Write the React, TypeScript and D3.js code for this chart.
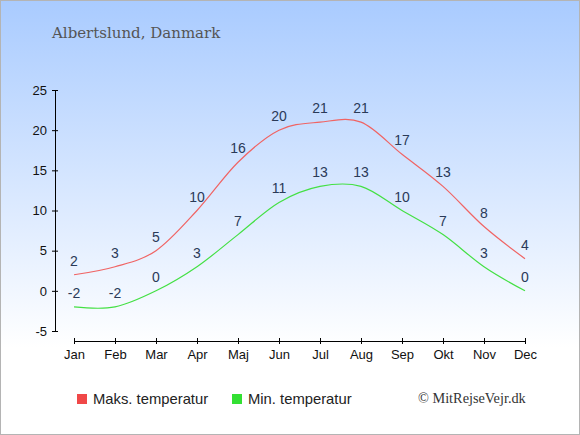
import { useRef, useEffect } from 'react';
import * as d3 from 'd3';

const months = ['Jan', 'Feb', 'Mar', 'Apr', 'Maj', 'Jun', 'Jul', 'Aug', 'Sep', 'Okt', 'Nov', 'Dec'];
const maxTemp = [2, 3, 5, 10, 16, 20, 21, 21, 17, 13, 8, 4];
const minTemp = [-2, -2, 0, 3, 7, 11, 13, 13, 10, 7, 3, 0];
const yTicks = [-5, 0, 5, 10, 15, 20, 25];

const W = 580;
const H = 435;

const App = () => {
    const ref = useRef<SVGSVGElement>(null);

    useEffect(() => {
        document.body.style.margin = '0';
        const svg = d3.select(ref.current);
        svg.selectAll('*').remove();

        const defs = svg.append('defs');
        const grad = defs.append('linearGradient')
            .attr('id', 'bg')
            .attr('x1', 0).attr('y1', 0).attr('x2', 0).attr('y2', 1);
        grad.append('stop').attr('offset', '0%').attr('stop-color', '#a9cbff');
        grad.append('stop').attr('offset', '80%').attr('stop-color', '#ffffff');
        grad.append('stop').attr('offset', '100%').attr('stop-color', '#ffffff');

        svg.append('rect')
            .attr('x', 0.5).attr('y', 0.5)
            .attr('width', W - 1).attr('height', H - 1)
            .attr('fill', 'url(#bg)')
            .attr('stroke', '#b4b4b4');

        svg.append('text')
            .attr('x', 52).attr('y', 38)
            .attr('font-family', "'DejaVu Serif', serif")
            .attr('font-size', 15)
            .attr('fill', '#555')
            .text('Albertslund, Danmark');

        const x = d3.scalePoint<string>().domain(months).range([74, 525]);
        const y = d3.scaleLinear().domain([-5, 25]).range([331, 90]);

        // y axis
        const yAxis = svg.append('g')
            .attr('transform', 'translate(55,0)')
            .call(d3.axisLeft(y).tickValues(yTicks).tickFormat(d => String(d)).tickSize(3).tickSizeOuter(0).tickPadding(5));
        yAxis.selectAll('.tick line').attr('x1', 3);
        yAxis.selectAll('text').attr('font-family', "'Liberation Sans', Arial, sans-serif").attr('font-size', 13).attr('fill', '#111');
        yAxis.select('.domain').attr('stroke', '#000');

        // x axis
        const xAxis = svg.append('g')
            .attr('transform', 'translate(0,341)')
            .call(d3.axisBottom(x).tickSize(3).tickSizeOuter(0).tickPadding(6));
        xAxis.selectAll('.tick line').attr('y1', -3);
        xAxis.selectAll('text').attr('font-family', "'Liberation Sans', Arial, sans-serif").attr('font-size', 13).attr('fill', '#111');

        const line = d3.line<number>()
            .x((_, i) => x(months[i])!)
            .y(d => y(d))
            .curve(d3.curveCardinal);

        const series = [
            { data: maxTemp, color: '#f06464' },
            { data: minTemp, color: '#44e044' },
        ];

        series.forEach(s => {
            svg.append('path')
                .datum(s.data)
                .attr('d', line)
                .attr('fill', 'none')
                .attr('stroke', s.color)
                .attr('stroke-width', 1.2);

            svg.append('g')
                .selectAll('text')
                .data(s.data)
                .enter().append('text')
                .attr('x', (_, i) => x(months[i])!)
                .attr('y', d => y(d) - 9)
                .attr('text-anchor', 'middle')
                .attr('font-family', "'Liberation Sans', Arial, sans-serif")
                .attr('font-size', 14)
                .attr('fill', '#2a3a58')
                .text(d => d);
        });

        // legend
        const legend = [
            { label: 'Maks. temperatur', color: '#f04848', x: 77 },
            { label: 'Min. temperatur', color: '#33e033', x: 232 },
        ];
        legend.forEach(l => {
            svg.append('rect')
                .attr('x', l.x).attr('y', 394)
                .attr('width', 10).attr('height', 10)
                .attr('fill', l.color);
            svg.append('text')
                .attr('x', l.x + 16).attr('y', 404)
                .attr('font-family', "'Liberation Sans', Arial, sans-serif")
                .attr('font-size', 14.8)
                .attr('fill', '#222')
                .text(l.label);
        });

        svg.append('text')
            .attr('x', 418).attr('y', 403)
            .attr('font-family', "'Liberation Serif', serif")
            .attr('font-size', 14.3)
            .attr('fill', '#333')
            .text('© MitRejseVejr.dk');
    }, []);

    return <svg ref={ref} width={W} height={H} style={{ display: 'block' }}></svg>;
};

export default App;
